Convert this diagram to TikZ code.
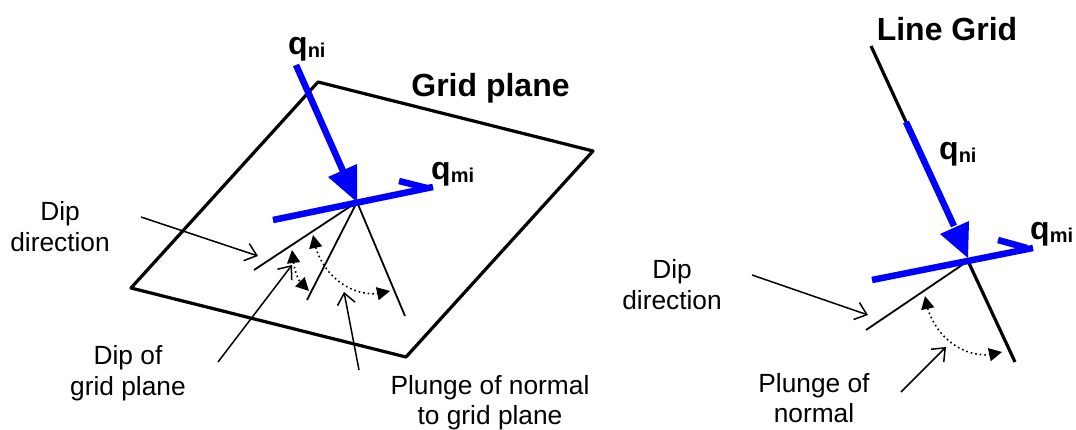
\documentclass[tikz,border=0pt]{standalone}
\usepackage{fontspec}
\setmainfont{Liberation Sans}
\usetikzlibrary{arrows.meta,bending}
\newcommand{\lbl}{\fontsize{26.3}{30.5}\selectfont}
\newcommand{\hdg}{\fontsize{32}{36}\selectfont\bfseries}
\newcommand{\qsym}[1]{\fontsize{32}{36}\selectfont\bfseries q\raisebox{-3pt}{\fontsize{20}{24}\selectfont #1}}
\tikzset{
  plane/.style={draw=black,line width=3.2pt,line join=round},
  thinline/.style={draw=black,line width=1.8pt},
  lead/.style={draw=black,line width=1.5pt,-{Straight Barb[length=11pt,width=18pt,line width=1.5pt]}},
  dotarc/.style={draw=black,line width=1.6pt,dash pattern=on 1.6pt off 3pt,{Triangle[length=13pt,width=13pt,sep=0pt]}-{Triangle[length=13pt,width=13pt]}},
  bluel/.style={draw={rgb,255:red,0;green,0;blue,255},line width=6.5pt},
  bluef/.style={fill={rgb,255:red,0;green,0;blue,255}},
  txt/.style={inner sep=0pt,align=left,text=black},
  lbltxt/.style={txt,font=\lbl,anchor=center,align=center},
  hdgtxt/.style={txt,font=\hdg,anchor=center}
}
\begin{document}
\begin{tikzpicture}[x=1pt,y=-1pt]
\useasboundingbox (0,0) rectangle (1076,430);
% ---------- left figure
\coordinate (pa) at (131,288);
\coordinate (pb) at (318,82);
\coordinate (pc) at (593,151);
\coordinate (pd) at (406,357);
\draw[plane] (pa)--(pb)--(pc)--(pd)--cycle;
\coordinate (ap) at (357,202);
\coordinate (l1) at (254,270);
\coordinate (l2) at (307,300);
\coordinate (l3) at (405,316);
\draw[thinline] (ap)--(l1);
\draw[thinline] (ap)--(l2);
\draw[thinline] (ap)--(l3);
% blue
\coordinate (n0) at (296,65);
\coordinate (n1) at (343,171);
\coordinate (nt) at (357,202);
\draw[bluel] (n0)--(n1);
\fill[bluef] (nt)--(357,164)--(328,177)--cycle;
\coordinate (m0) at (273,220);
\coordinate (m1) at (433,187);
\coordinate (m2) at (399,181);
\draw[bluel] (m0)--(m1);
\draw[bluel] (m2)--(427,188);
% leads
\coordinate (d0) at (141,217);
\coordinate (d1) at (258,256);
\draw[lead] (d0)--(d1);
\coordinate (g0) at (218,362);
\coordinate (g1) at (292,265);
\draw[lead] (g0)--(g1);
\coordinate (p0) at (359,370);
\coordinate (p1) at (344,292);
\draw[lead] (p0)--(p1);
% dotted arcs
\coordinate (s0) at (292,250);
\coordinate (s1) at (309,291);
\draw[dotarc] (s0) .. controls (294,272) and (298,284) .. (s1);
\coordinate (b0) at (313,235);
\coordinate (b1) at (390,291);
\draw[dotarc] (b0) .. controls (318,275) and (355,303) .. (b1);
% text left
\node[txt,anchor=west] (qn) at (288,49) {\qsym{ni}};
\node[txt,anchor=west] (qm) at (431,174) {\qsym{mi}};
\node[hdgtxt] (gp) at (490.5,88) {Grid plane};
\node[lbltxt] (dd) at (60,226.5) {Dip\\direction};
\node[lbltxt] (dg) at (128,373) {Dip of\\grid plane};
\node[lbltxt] (pn) at (490,402.5) {Plunge of normal\\to grid plane};
% ---------- right figure
\coordinate (r0) at (871,46);
\coordinate (r1) at (906,122);
\coordinate (rt) at (968,258);
\coordinate (r2) at (1015,362);
\coordinate (ra) at (968,261);
\draw[plane] (r0)--(r1);
\draw[bluel] (r1)--(954,226);
\fill[bluef] (rt)--(969,221)--(940,234)--cycle;
\draw[plane] (ra)--(r2);
\coordinate (r3) at (866,330);
\draw[thinline] (ra)--(r3);
\coordinate (rm0) at (872,280);
\coordinate (rm1) at (1033,248);
\coordinate (rm2) at (998,240);
\draw[bluel] (rm0)--(rm1);
\draw[bluel] (rm2)--(1027,248);
\coordinate (e0) at (752,275);
\coordinate (e1) at (868,315);
\draw[lead] (e0)--(e1);
\coordinate (f0) at (901,392);
\coordinate (f1) at (946,347);
\draw[lead] (f0)--(f1);
\coordinate (h0) at (925,296);
\coordinate (h1) at (1002,352);
\draw[dotarc] (h0) .. controls (930,336) and (967,364) .. (h1);
\node[hdgtxt] (lg) at (947,29) {Line Grid};
\node[txt,anchor=west] (qn2) at (939,154) {\qsym{ni}};
\node[txt,anchor=west] (qm2) at (1030,234) {\qsym{mi}};
\node[lbltxt] (dd2) at (672,284.5) {Dip\\direction};
\node[lbltxt] (pn2) at (814,398) {Plunge of\\normal};
\end{tikzpicture}
\end{document}
